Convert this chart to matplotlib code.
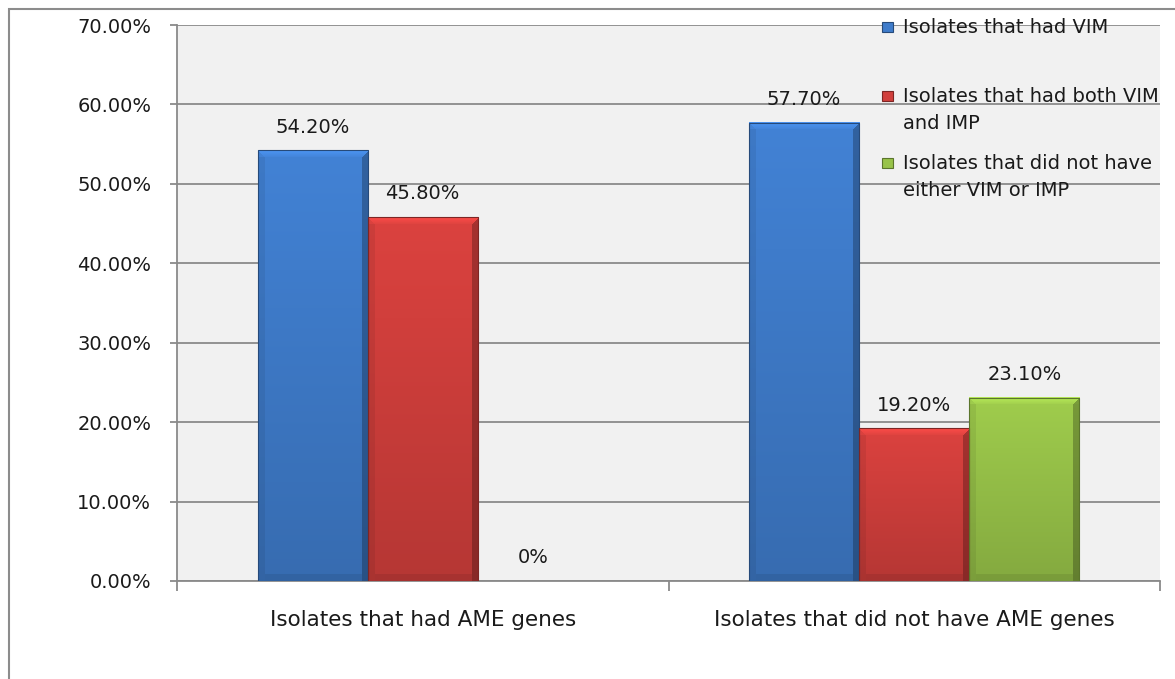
import numpy as np
import matplotlib
matplotlib.use("Agg")
from matplotlib import pyplot as plt
from matplotlib.patches import Rectangle
from matplotlib.ticker import FixedLocator, FuncFormatter
from matplotlib.colors import to_rgb

categories = ["Isolates that had AME genes", "Isolates that did not have AME genes"]
series_names = ["Isolates that had VIM",
                "Isolates that had both VIM\nand IMP",
                "Isolates that did not have\neither VIM or IMP"]
vim = [54.2, 57.7]
vim_imp = [45.8, 19.2]
neither = [0.0, 23.1]
label_text = [["54.20%", "57.70%"], ["45.80%", "19.20%"], ["0%", "23.10%"]]
y_ticks = [0, 10, 20, 30, 40, 50, 60, 70]

colors = ["#3f7ccb", "#d13f3c", "#98c349"]

W, H = 1175, 679
fig = plt.figure(figsize=(W / 100, H / 100), dpi=100)
ax = fig.add_axes([177 / W, 98 / H, 983 / W, 556 / H])
ax.set_facecolor("#f1f1f1")

# outer chart border (cut off at right and bottom, like the screenshot)
fig.add_artist(Rectangle((9 / W, -0.1), 1.2, (H - 9) / H + 0.1, transform=fig.transFigure,
                         fill=False, ec="#8c8c8c", lw=1.5))

x = np.arange(len(categories))
bw = 0.224
all_series = [vim, vim_imp, neither]
ax.set_xlim(-0.5, 1.5)
ax.set_ylim(0, 70)

bars = []
for i, vals in enumerate(all_series):
    b = ax.bar(x + (i - 1) * bw, vals, bw, color=colors[i], zorder=2, linewidth=0)
    bars.append(b)


def shade_bar(rect, base):
    # fake excel bevel: gradient + lighter top edge + darker sides
    h = rect.get_height()
    if h <= 0:
        return
    x0, y0 = rect.get_x(), rect.get_y()
    x1, y1 = x0 + rect.get_width(), y0 + h
    p0 = ax.transData.transform((x0, y0))
    p1 = ax.transData.transform((x1, y1))
    nx = max(int(round(p1[0] - p0[0])), 2)
    ny = max(int(round(p1[1] - p0[1])), 2)
    c = np.array(to_rgb(base))
    yy = np.linspace(0, 1, ny)[:, None]  # 0 top, 1 bottom
    xx = np.arange(nx)[None, :]
    rr = np.arange(ny)[:, None]
    f = 1.05 - 0.18 * yy + 0 * xx
    bev = 7
    top = rr < bev
    right = xx >= nx - bev
    left = xx < bev
    bottom = rr >= ny - bev
    f = np.where(left & ~top, f * 0.93, f)
    f = np.where(right & ~top, f * 0.75, f)
    f = np.where(bottom & ~left & ~right, f * 0.92, f)
    f = np.where(top & (xx >= rr) & (xx < nx - rr), 1.2 - 0.02 * rr, f)
    f = np.where(top & (xx >= nx - rr), 0.8, f)
    img = np.clip(c[None, None, :] * f[:, :, None], 0, 1)
    ax.imshow(img, extent=[x0, x1, y0, y1], aspect="auto", zorder=3, interpolation="nearest")
    ax.add_patch(Rectangle((x0, y0), x1 - x0, h, fill=False, ec=tuple(c * 0.6), lw=0.8, zorder=4))


for i, b in enumerate(bars):
    for j, rect in enumerate(b):
        shade_bar(rect, colors[i])
        ax.annotate(label_text[i][j], (rect.get_x() + rect.get_width() / 2, rect.get_height()),
                    xytext=(0, 10), textcoords="offset points", ha="center", va="bottom",
                    fontsize=14, color="#1a1a1a", zorder=5)

ax.set_xlim(-0.5, 1.5)
ax.set_ylim(0, 70)

ax.yaxis.set_major_locator(FixedLocator(y_ticks))
ax.yaxis.set_major_formatter(FuncFormatter(lambda v, p: "%.2f%%" % v))
ax.grid(axis="y", color="#8a8a8a", lw=1.3, zorder=1)
ax.set_axisbelow(True)
ax.tick_params(axis="y", length=5, width=1.3, color="#8a8a8a", labelsize=14,
               labelcolor="#1a1a1a", pad=13.5)

ax.set_xticks(x)
ax.set_xticklabels(categories, fontsize=15.5, color="#1a1a1a")
ax.set_xticks([-0.5, 0.5, 1.5], minor=True)
ax.tick_params(axis="x", which="major", length=0, pad=21)
ax.tick_params(axis="x", which="minor", length=7, width=1.3, color="#8a8a8a")

for s in ["top", "right"]:
    ax.spines[s].set_visible(False)
for s in ["left", "bottom"]:
    ax.spines[s].set_color("#8a8a8a")
    ax.spines[s].set_linewidth(1.3)

# legend, drawn by hand to keep excel's uneven spacing
leg_y = [27, 96, 163]
for i, name in enumerate(series_names):
    yc = leg_y[i]
    fig.add_artist(Rectangle((882 / W, 1 - (yc + 5) / H), 11 / W, 10 / H,
                             transform=fig.transFigure, fc=colors[i],
                             ec=tuple(np.array(to_rgb(colors[i])) * 0.6), lw=0.8))
    fig.text(903 / W, 1 - (yc - 9) / H, name, fontsize=14, va="top", ha="left",
             color="#1a1a1a", linespacing=1.55)

fig.savefig("out.png", dpi=100)
